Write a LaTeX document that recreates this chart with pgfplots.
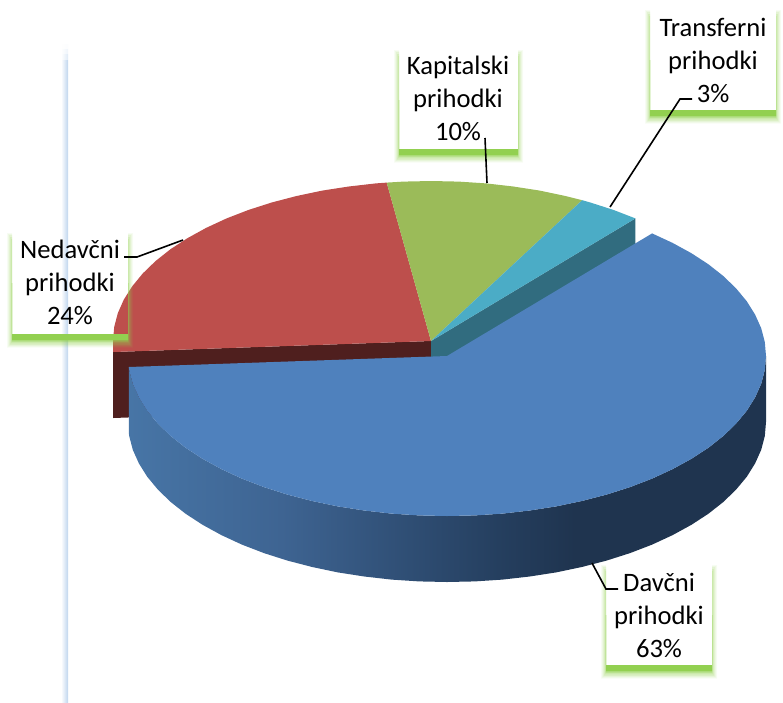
\documentclass[border=0pt]{standalone}
\usepackage{pgfplots}
\pgfplotsset{compat=1.18}
\usepackage{fontspec}
\setmainfont{Carlito}
\definecolor{pblue}{HTML}{4F81BD}
\definecolor{pred}{HTML}{BD4F4C}
\definecolor{pgreen}{HTML}{9BBB59}
\definecolor{pteal}{HTML}{4BACC6}
\definecolor{dteal}{HTML}{316C7F}
\definecolor{dred}{HTML}{4F1F1E}
\definecolor{glow}{HTML}{92D050}
\definecolor{rulec}{HTML}{BFD5EE}
\definecolor{sa}{HTML}{4775A6}
\definecolor{sb}{HTML}{3E6492}
\definecolor{sc}{HTML}{2F4E74}
\definecolor{sd}{HTML}{253F5F}
\definecolor{se}{HTML}{1F344F}
\pgfdeclarehorizontalshading{sideblue}{100bp}{
 color(0bp)=(sa);
 color(25bp)=(sa);
 color(37bp)=(sb);
 color(47bp)=(sc);
 color(54bp)=(sd);
 color(60bp)=(se);
 color(100bp)=(se)}
% glow layer round a label box: x0 x1 y0 y1, side width, top inset, bottom extent, opacity
\newcommand{\glowlayer}[8]{%
 \pgfmathsetmacro{\xa}{#1-#5}\pgfmathsetmacro{\xb}{#2+#5}%
 \pgfmathsetmacro{\ya}{#3+#6}\pgfmathsetmacro{\yb}{#4+#7}%
 \edef\glowcmd{\noexpand\addplot[draw=none,fill=glow,opacity=#8] coordinates {(\xa,\ya) (#1,\ya) (#1,#4) (#2,#4) (#2,\ya) (\xb,\ya) (\xb,\yb) (\xa,\yb)} --cycle;}%
 \glowcmd}
\newcommand{\labelglow}[4]{%
 \glowlayer{#1}{#2}{#3}{#4}{5}{0}{13.5}{.07}%
 \glowlayer{#1}{#2}{#3}{#4}{4}{1}{12.5}{.09}%
 \glowlayer{#1}{#2}{#3}{#4}{3}{2}{11.5}{.12}%
 \glowlayer{#1}{#2}{#3}{#4}{2}{4}{10.5}{.16}%
 \glowlayer{#1}{#2}{#3}{#4}{1}{6}{9}{.16}%
 \glowlayer{#1}{#2}{#3}{#4}{0.3}{50}{7.5}{.50}%
 \glowlayer{#1}{#2}{#3}{#4}{0}{50}{6}{1}}
\begin{document}
\begin{tikzpicture}
\useasboundingbox (0,0) rectangle (783pt,702pt);
\begin{axis}[at={(0,0)},anchor=south west,width=783pt,height=702pt,scale only axis,
  hide axis,clip=false,xmin=0,xmax=783,ymin=0,ymax=702,y dir=reverse,no markers,
  every axis plot/.append style={forget plot}]
% vertical rule
\addplot[draw=none,shade,left color=white,right color=rulec] coordinates {(61,44) (68,44) (68,702) (61,702)} --cycle;
\addplot[draw=none,fill=white,opacity=.5] coordinates {(60,44) (69,44) (69,60) (60,60)} --cycle;
\addplot[draw=none,fill=white,opacity=.5] coordinates {(60,44) (69,44) (69,54) (60,54)} --cycle;
\addplot[draw=none,fill=white,opacity=.8] coordinates {(60,43) (69,43) (69,49) (60,49)} --cycle;
% exploded slice walls
\addplot[draw=none,fill=dred] coordinates {(431,341) (113,352) (113,418) (431,407)} --cycle;
\addplot[draw=none,fill=dteal] coordinates {(431,341) (635.4,218.4) (635.4,284) (431,407)} --cycle;
% Nedavcni prihodki 24%
\addplot[draw=none,fill=pred] coordinates {(431,341) (386.7,182.6) (375.8,183.4) (348.7,186.5) (322.2,190.6) (296.6,196) (272,202.4) (248.6,209.9) (226.6,218.4) (206.1,227.9) (187.4,238.2) (170.5,249.2) (155.6,261) (142.8,273.4) (132.2,286.3) (123.8,299.6) (117.8,313.2) (114.2,327) (113,341) (113,352)} --cycle;
% Kapitalski prihodki 10%
\addplot[draw=none,fill=pgreen] coordinates {(431,341) (582.2,200.2) (565.4,196) (539.8,190.6) (513.3,186.5) (486.2,183.4) (458.7,181.6) (431,181) (403.3,181.6) (386.7,182.6)} --cycle;
% Transferni prihodki 3%
\addplot[draw=none,fill=pteal] coordinates {(431,341) (635.4,218.4) (613.4,209.9) (590,202.4) (582.2,200.2)} --cycle;
% Davcni prihodki 63%: side
\addplot[draw=none,shade,shading=sideblue] coordinates {
 (766,356) (764.8,370) (761.2,383.8) (755.1,397.4) (746.8,410.7) (736.1,423.6) (723.3,436) (708.3,447.8) (691.4,458.8) (672.6,469.1) (652.1,478.6) (630,487.1) (606.5,494.6) (581.8,501) (556.1,506.4) (529.6,510.5) (502.4,513.6) (474.8,515.4) (447,516) (419.2,515.4) (391.6,513.6) (364.4,510.5) (337.9,506.4) (312.2,501) (287.5,494.6) (264,487.1) (241.9,478.6) (221.4,469.1) (202.6,458.8) (185.7,447.8) (170.7,436) (157.9,423.6) (147.2,410.7) (138.9,397.4) (132.8,383.8) (129.2,370) (128.8,367)
 (128.8,433) (129.2,436) (132.8,449.8) (138.9,463.4) (147.2,476.7) (157.9,489.6) (170.7,502) (185.7,513.8) (202.6,524.8) (221.4,535.1) (241.9,544.6) (264,553.1) (287.5,560.6) (312.2,567) (337.9,572.4) (364.4,576.5) (391.6,579.6) (419.2,581.4) (447,582) (474.8,581.4) (502.4,579.6) (529.6,576.5) (556.1,572.4) (581.8,567) (606.5,560.6) (630,553.1) (652.1,544.6) (672.6,535.1) (691.4,524.8) (708.3,513.8) (723.3,502) (736.1,489.6) (746.8,476.7) (755.1,463.4) (761.2,449.8) (764.8,436) (766,422)} --cycle;
% Davcni prihodki 63%: top
\addplot[draw=none,fill=pblue] coordinates {(447,356) (652.1,233.4) (672.6,242.9) (691.4,253.2) (708.3,264.2) (723.3,276) (736.1,288.4) (746.8,301.3) (755.1,314.6) (761.2,328.2) (764.8,342) (766,356) (764.8,370) (761.2,383.8) (755.1,397.4) (746.8,410.7) (736.1,423.6) (723.3,436) (708.3,447.8) (691.4,458.8) (672.6,469.1) (652.1,478.6) (630,487.1) (606.5,494.6) (581.8,501) (556.1,506.4) (529.6,510.5) (502.4,513.6) (474.8,515.4) (447,516) (419.2,515.4) (391.6,513.6) (364.4,510.5) (337.9,506.4) (312.2,501) (287.5,494.6) (264,487.1) (241.9,478.6) (221.4,469.1) (202.6,458.8) (185.7,447.8) (170.7,436) (157.9,423.6) (147.2,410.7) (138.9,397.4) (132.8,383.8) (129.2,370) (128.8,367)} --cycle;
% label glows (the labels themselves have no fill)
\labelglow{12}{128}{233}{334}
\labelglow{399}{518}{50}{149}
\labelglow{650}{776}{10}{110}
\labelglow{606}{712}{565}{665}
% leaders
\addplot[black,line width=1.6pt] coordinates {(124,257) (137,257) (183,240)};
\addplot[black,line width=1.6pt] coordinates {(485,138) (487,183)};
\addplot[black,line width=1.6pt] coordinates {(692,99) (680,99) (610,207)};
\addplot[black,line width=1.6pt] coordinates {(618,589) (606,589) (592,563)};
% texts
\tikzset{lab/.style={align=center,inner sep=0pt,anchor=center,text=black,font=\fontsize{26.6}{33}\selectfont}}
\node[lab] at (axis cs:70,282.5) {Nedavčni\\prihodki\\24\%};
\node[lab] at (axis cs:458,98) {Kapitalski\\prihodki\\10\%};
\node[lab] at (axis cs:713,60) {Transferni\\prihodki\\3\%};
\node[lab] at (axis cs:659,615) {Davčni\\prihodki\\63\%};
\end{axis}
\end{tikzpicture}
\end{document}
